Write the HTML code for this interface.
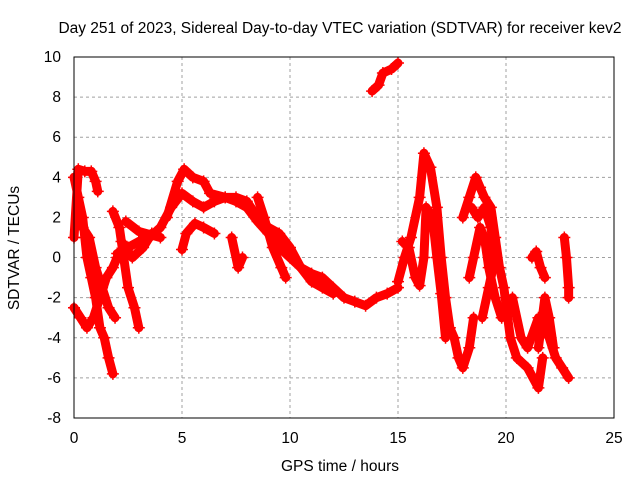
<!DOCTYPE html>
<html><head><meta charset="utf-8"><style>
body{margin:0;background:#fff}
svg{font-family:"Liberation Sans",sans-serif;font-size:15.5px}
</style></head><body>
<svg id="chart" width="640" height="480">
<text x="340" y="33" text-anchor="middle">Day 251 of 2023, Sidereal Day-to-day VTEC variation (SDTVAR) for receiver kev2</text>
<text x="340" y="471" text-anchor="middle">GPS time / hours</text>
<text transform="translate(19,248) rotate(-90)" text-anchor="middle">SDTVAR / TECUs</text>
<g id="grid"></g><g id="axes"></g><g id="marks"></g>
<rect x="74" y="57" width="540" height="361" fill="none" stroke="#000"/>
</svg>
<script>
const xTicks=[0,5,10,15,20,25];
const yTicks=[-8,-6,-4,-2,0,2,4,6,8,10];
const trackA=[[2,0.2],[2.5,0.5],[3,0.8],[3.5,1],[4,1.5],[4.5,2.5],[5,3.2],[5.5,2.8],[6,2.5],[6.5,2.8],[7,3],[7.5,2.8],[8,2.5],[8.5,1.8],[9,1.2],[9.5,0.5],[10,0],[10.5,-0.5],[11,-0.8],[11.5,-1],[12,-1.5],[12.5,-2],[13,-2.2],[13.5,-2.4],[14,-2],[14.5,-1.8],[15,-1.5]];
const trackB=[[4.3,2],[4.8,3.8],[5.1,4.4],[5.5,4],[6,3.8],[6.3,3.2],[7,3],[7.5,3],[8,2.8],[8.5,2],[9,1.5],[9.5,1.2],[10,0.5],[10.5,-0.5],[11,-1.2],[11.5,-1.5],[12,-1.8]];
const trackC=[[5,0.4],[5.2,1.2],[5.6,1.7],[6,1.5],[6.5,1.2]];
const trackD=[[7.3,1],[7.6,-0.5],[7.8,0]];
const trackE=[[8.5,3],[8.8,2],[9.2,0.5],[9.6,-0.5],[9.8,-1]];
const trackF=[[2.2,0.8],[2.7,0],[3.2,0.5],[3.6,1.2],[4,1],[3.0,1.3],[2.4,1.8]];
const trackG=[[15,-1.2],[15.3,0],[15.6,1],[16,3],[16.2,5.2],[16.5,4.5],[16.8,2.5],[17,0],[17.2,-2],[17.4,-3.5],[17.6,-4],[17.8,-5],[18,-5.5],[18.3,-4.5],[18.5,-3]];
const trackH=[[15.2,0.8],[15.5,0.5],[15.8,-1],[16,-1.4],[16.2,0],[16.3,2.5],[16.6,2],[16.8,0],[17,-1.8],[17.2,-4]];
const trackI=[[18,2],[18.3,3],[18.6,4],[18.8,3.5],[19,3],[19.3,2.5],[19.5,1],[19.7,-0.5],[19.9,-1.5],[20.2,-4],[20.5,-5],[21,-5.5],[21.5,-6.5],[21.7,-5]];
const trackJ=[[18.3,-1],[18.5,0],[18.8,1.5],[19,1],[19.2,-0.5],[19.5,-2],[19.8,-3]];
const trackJ2=[[18.4,2.5],[18.7,2],[19,2.5],[19.3,1.5],[19.5,0],[19.2,-1.5],[18.9,-3]];
const trackK=[[20.3,-2],[20.7,-4],[21,-4.5],[21.5,-3],[21.8,-3.5],[22,-4],[22.3,-5],[22.6,-5.5],[22.9,-6]];
const trackL=[[21.5,-4.5],[21.8,-2],[22,-3],[22.2,-4.5]];
const trackM=[[21.2,0],[21.4,0.3],[21.6,-0.5],[21.8,-1]];
const trackN=[[22.7,1],[22.8,0],[22.9,-1.5],[22.9,-2]];
const trackO=[[13.8,8.3],[14.1,8.6],[14.3,9.2],[14.7,9.4],[15,9.7]];
const trackP=[[0,1],[0.2,4.4],[0.5,4.3],[0.8,4.3],[1,3.8],[1.1,3.3]];
const trackQ=[[0,4],[0.2,3],[0.4,2],[0.5,1],[0.6,0],[0.8,-1],[1,-2],[1.2,-3.5],[1.4,-4],[1.6,-5],[1.8,-5.8]];
const trackR=[[0,-2.5],[0.3,-3],[0.6,-3.5],[0.9,-3],[1.2,-2],[1.5,-1],[1.8,-0.5],[2,0]];
const trackS=[[0.4,1.5],[0.7,1],[1,-0.5],[1.3,-1.5],[1.6,-2.5],[1.9,-3]];
const trackT=[[1.8,2.3],[2.1,1.5],[2.3,0],[2.5,-1.5],[2.8,-2.5],[3,-3.5]];
const tracks=[trackA,trackB,trackC,trackD,trackE,trackF,trackG,trackH,trackI,trackJ,trackJ2,trackK,trackL,trackM,trackN,trackO,trackP,trackQ,trackR,trackS,trackT];
const NS="http://www.w3.org/2000/svg";
const X=t=>74+t*540/25, Y=v=>418-(v+8)*361/18;
const grid=document.getElementById('grid'),axes=document.getElementById('axes'),marks=document.getElementById('marks');
function mk(tag,attrs,parent){const e=document.createElementNS(NS,tag);for(const k in attrs)e.setAttribute(k,attrs[k]);parent.appendChild(e);return e;}
xTicks.forEach(t=>{
 if(t>0&&t<25){const g=mk('line',{x1:X(t),x2:X(t),y1:57,y2:418,stroke:'#a0a0a0','stroke-dasharray':'3,3'},grid);
 
 }
 const l=mk('text',{x:X(t),y:443,'text-anchor':'middle'},axes);l.textContent=t;
 
 
});
yTicks.forEach(v=>{
 if(v>-8&&v<10){const g=mk('line',{x1:74,x2:614,y1:Y(v),y2:Y(v),stroke:'#a0a0a0','stroke-dasharray':'3,3'},grid);
 
 }
 const l=mk('text',{x:61,y:Y(v)+5,'text-anchor':'end'},axes);l.textContent=v;
 
 
});
tracks.forEach(tr=>{
 const p=mk('polyline',{points:tr.map(d=>X(d[0])+','+Y(d[1])).join(' '),fill:'none',stroke:'#f00','stroke-width':9,'stroke-linejoin':'round','stroke-linecap':'round'},marks);
 
 
 tr.forEach(d=>{
  const m=mk('path',{d:`M${X(d[0])-6},${Y(d[1])}h12M${X(d[0])},${Y(d[1])-6}v12`,stroke:'#f00','stroke-width':1.5},marks);
  
  
 });
});
</script>
</body></html>
